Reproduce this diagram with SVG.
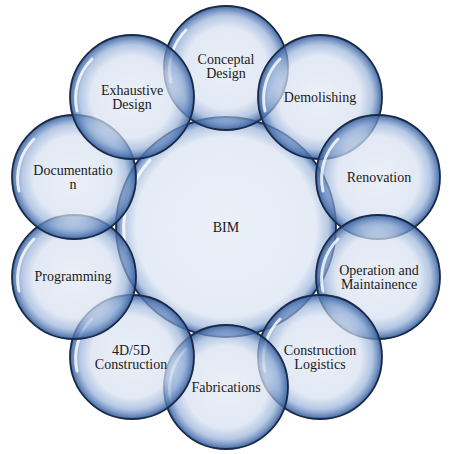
<svg xmlns="http://www.w3.org/2000/svg" width="453" height="454" viewBox="0 0 453 454">
  <defs>
    <radialGradient id="bub" cx="50%" cy="50%" r="50%">
      <stop offset="0" stop-color="#e6ecf6" stop-opacity="0.8"/>
      <stop offset="0.66" stop-color="#d6e0f0" stop-opacity="0.7"/>
      <stop offset="0.84" stop-color="#8fabd6" stop-opacity="0.65"/>
      <stop offset="1" stop-color="#2f5a9c" stop-opacity="0.9"/>
    </radialGradient>
    <radialGradient id="bubBig" cx="50%" cy="50%" r="50%">
      <stop offset="0" stop-color="#e8eef7" stop-opacity="0.85"/>
      <stop offset="0.82" stop-color="#d9e3f2" stop-opacity="0.7"/>
      <stop offset="0.93" stop-color="#8fabd6" stop-opacity="0.65"/>
      <stop offset="1" stop-color="#2f5a9c" stop-opacity="0.9"/>
    </radialGradient>
  </defs>
  <style>
    .b { fill: url(#bub); stroke: #1b2a46; stroke-width: 1.8; }
    .big { fill: url(#bubBig); stroke: #1b2a46; stroke-width: 1.8; }
    .gl { fill: none; stroke: #ffffff; stroke-opacity: 0.8; stroke-width: 3; stroke-linecap: round; }
    text { font-size: 14px; fill: #1a1a1a; text-anchor: middle; }
  </style>
  <rect width="453" height="454" fill="#ffffff"/>

  <g font-family="'Liberation Serif', 'Times New Roman', serif">
  <g id="bim">
    <circle class="big" cx="226" cy="227" r="110"/>
    <path class="gl" d="M 126 250 A 102 102 0 0 1 150 160"/>
    <text x="226" y="232">BIM</text>
  </g>

  <g id="conceptal-design">
    <circle class="b" cx="226" cy="68" r="62"/>
    <path class="gl" d="M 171 82 A 56 56 0 0 1 186 30"/>
    <text x="226" y="64">Conceptal</text>
    <text x="226" y="78">Design</text>
  </g>

  <g id="demolishing">
    <circle class="b" cx="320" cy="97" r="62"/>
    <path class="gl" d="M 265 111 A 56 56 0 0 1 280 59"/>
    <text x="320" y="102">Demolishing</text>
  </g>

  <g id="renovation">
    <circle class="b" cx="378" cy="177" r="62"/>
    <path class="gl" d="M 323 191 A 56 56 0 0 1 338 139"/>
    <text x="379" y="182">Renovation</text>
  </g>

  <g id="operation-maintainence">
    <circle class="b" cx="378" cy="277" r="62"/>
    <path class="gl" d="M 323 291 A 56 56 0 0 1 338 239"/>
    <text x="379" y="275">Operation and</text>
    <text x="379" y="289">Maintainence</text>
  </g>

  <g id="construction-logistics">
    <circle class="b" cx="320" cy="357" r="62"/>
    <path class="gl" d="M 265 371 A 56 56 0 0 1 280 319"/>
    <text x="320" y="355">Construction</text>
    <text x="320" y="369">Logistics</text>
  </g>

  <g id="fabrications">
    <circle class="b" cx="226" cy="387" r="62"/>
    <path class="gl" d="M 171 401 A 56 56 0 0 1 186 349"/>
    <text x="226" y="392">Fabrications</text>
  </g>

  <g id="construction-4d5d">
    <circle class="b" cx="132" cy="357" r="62"/>
    <path class="gl" d="M 77 371 A 56 56 0 0 1 92 319"/>
    <text x="131" y="355">4D/5D</text>
    <text x="131" y="369">Construction</text>
  </g>

  <g id="programming">
    <circle class="b" cx="74" cy="277" r="62"/>
    <path class="gl" d="M 19 291 A 56 56 0 0 1 34 239"/>
    <text x="73" y="281">Programming</text>
  </g>

  <g id="documentation">
    <circle class="b" cx="74" cy="177" r="62"/>
    <path class="gl" d="M 19 191 A 56 56 0 0 1 34 139"/>
    <text x="73" y="175">Documentatio</text>
    <text x="73" y="189">n</text>
  </g>

  <g id="exhaustive-design">
    <circle class="b" cx="132" cy="97" r="62"/>
    <path class="gl" d="M 77 111 A 56 56 0 0 1 92 59"/>
    <text x="132" y="95">Exhaustive</text>
    <text x="132" y="109">Design</text>
  </g>
  </g>

  <g id="connectors"></g>
</svg>
